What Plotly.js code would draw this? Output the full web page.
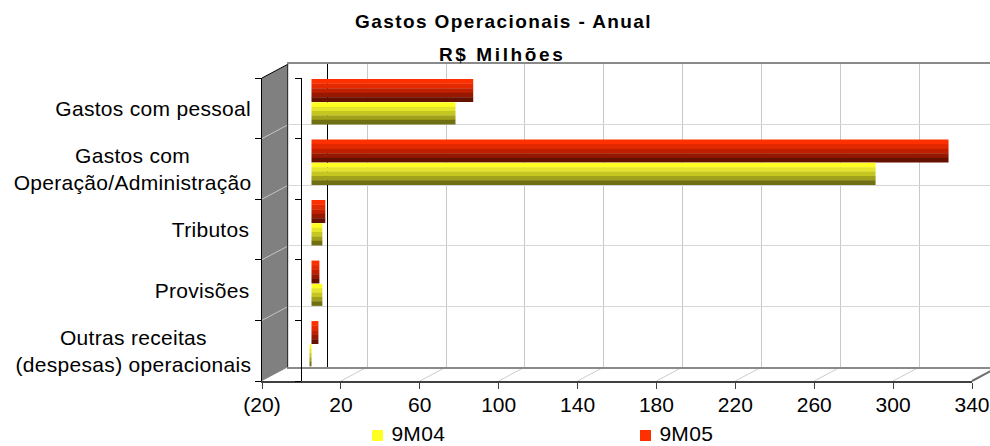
<!DOCTYPE html>
<html>
<head>
<meta charset="utf-8">
<script src="https://cdn.plot.ly/plotly-3.0.1.min.js"></script>
<style>
html, body { margin: 0; padding: 0; background: #ffffff; }
#chart { width: 990px; height: 446px; }
.annotation .annotation-text { letter-spacing: 0.3px; }
.annotation[data-index="5"] .annotation-text { letter-spacing: 1.4px; }
.annotation[data-index="6"] .annotation-text { letter-spacing: 2.6px; }
</style>
</head>
<body>
<div id="chart"></div>
<script>
// ---------------- data ----------------
const categories = [
  'Gastos com pessoal',
  'Gastos com Operação/Administração',
  'Tributos',
  'Provisões',
  'Outras receitas (despesas) operacionais'
];
const categoryLabels = [
  'Gastos com pessoal',
  'Gastos com<br>Operação/Administração',
  'Tributos',
  'Provisões',
  'Outras receitas<br>(despesas) operacionais'
];
const seriesNames = ['9M04', '9M05'];
const values9M04 = [73, 286, 5.5, 5.5, -1];
const values9M05 = [82, 323, 7, 4, 3.5];
const xTickVals = [-20, 20, 60, 100, 140, 180, 220, 260, 300, 340];
const xTickText = ['(20)', '20', '60', '100', '140', '180', '220', '260', '300', '340'];
const titleLines = ['Gastos Operacionais - Anual', 'R$ Milhões'];

// ---------------- geometry (pixels) ----------------
const W = 990, H = 446;
const FL = 262, FR = 972, FT = 78, FB = 381;      // front plane
const S = (FR - FL) / (xTickVals[xTickVals.length - 1] - xTickVals[0]); // px per unit
const DX = 26.3, DY = -14;                          // depth offset
const BL = FL + DX, BT = FT + DY, BB = FB + DY;     // back plane
const BAR0 = 311.5, MT = 71.5, MB = 374;            // bar plane
const FZ = FL + (0 - xTickVals[0]) * S;             // front zero
const px = v => v / W;
const py = v => (H - v) / H;

const redShades = ['#ff3000', '#e42800', '#c02000', '#961800', '#661000'];
const yellowShades = ['#ffff22', '#e4e42a', '#c6c622', '#a0a01a', '#707012'];

const traces = [];
// empty traces so that the frame subplots are registered and drawn
[['x', 'y'], ['x3', 'y3'], ['x3', 'y4']].forEach(([xa, ya]) => {
  traces.push({ type: 'scatter', mode: 'markers', x: [], y: [], xaxis: xa, yaxis: ya,
    showlegend: false, hoverinfo: 'skip' });
});
function addSeries(vals, name, shades, off0, total) {
  const n = shades.length, w = total / n;
  shades.forEach((c, i) => {
    traces.push({
      type: 'bar', orientation: 'h',
      x: vals, y: categories,
      xaxis: 'x2', yaxis: 'y2',
      offset: off0 + i * w, width: w + 0.004,
      marker: { color: c, line: { width: 0 } },
      name: name, showlegend: false,
      hoverinfo: 'skip'
    });
  });
}
addSeries(values9M05, seriesNames[1], redShades, -0.375, 0.375);
addSeries(values9M04, seriesNames[0], yellowShades, 0.01, 0.36);

// ---------------- shapes ----------------
const shapes = [];
const P = (x, y) => px(x) + ',' + py(y);
shapes.push({ type: 'path', xref: 'paper', yref: 'paper', layer: 'below',
  path: 'M' + P(FL, FT) + 'L' + P(BL, BT) + 'L' + P(BL, BB) + 'L' + P(FL, FB) + 'Z',
  fillcolor: '#808080', line: { width: 0 } });
for (let k = 1; k < categories.length; k++) {
  const yf = FT + k * (FB - FT) / categories.length;
  const yb = BT + k * (BB - BT) / categories.length;
  shapes.push({ type: 'line', xref: 'paper', yref: 'paper', layer: 'below',
    x0: px(FL), y0: py(yf), x1: px(BL), y1: py(yb), line: { color: '#c4c4c4', width: 1 } });
}
shapes.push({ type: 'line', xref: 'paper', yref: 'paper', layer: 'below',
  x0: px(FL), y0: py(FT), x1: px(BL), y1: py(BT), line: { color: '#000', width: 1 } });
xTickVals.slice(1).forEach((v, i, arr) => {
  const xf = FL + (v - xTickVals[0]) * S;
  const last = i === arr.length - 1;
  shapes.push({ type: 'line', xref: 'paper', yref: 'paper', layer: 'below',
    x0: px(xf), y0: py(FB), x1: px(xf + DX), y1: py(BB),
    line: { color: last ? '#707070' : '#cccccc', width: last ? 2 : 1 } });
});

// legend (custom, so it is not clipped at the bottom edge)
const legendItems = [
  { name: seriesNames[0], color: yellowShades[0], x: 372 },
  { name: seriesNames[1], color: redShades[0], x: 640 }
];
legendItems.forEach(it => {
  shapes.push({ type: 'rect', xref: 'paper', yref: 'paper', layer: 'above',
    x0: px(it.x), x1: px(it.x + 11), y0: py(441), y1: py(430),
    fillcolor: it.color, line: { width: 0 } });
});

// ---------------- annotations ----------------
const annotations = categoryLabels.map((t, i) => ({
  xref: 'paper', yref: 'y3', x: px(250), y: i + 0.5,
  xanchor: 'right', yanchor: 'middle', align: 'center',
  text: t, showarrow: false, font: { size: 21, color: '#000' }
}));
annotations.push({ xref: 'paper', yref: 'paper', x: px(503.5), y: py(21.5),
  xanchor: 'center', yanchor: 'middle', text: '<b>' + titleLines[0] + '</b>',
  showarrow: false, font: { size: 19, color: '#000' } });
annotations.push({ xref: 'paper', yref: 'paper', x: px(501.5), y: py(54.5),
  xanchor: 'center', yanchor: 'middle', text: '<b>' + titleLines[1] + '</b>',
  showarrow: false, font: { size: 19, color: '#000' } });
legendItems.forEach(it => {
  annotations.push({ xref: 'paper', yref: 'paper', x: px(it.x + 19), y: py(433.5),
    xanchor: 'left', yanchor: 'middle', text: it.name, borderpad: 0,
    showarrow: false, font: { size: 21, color: '#000' } });
});

const boundaries = [0, 1, 2, 3, 4, 5];

const layout = {
  width: W, height: H, autosize: false,
  margin: { l: 0, r: 0, t: 0, b: 0, pad: 0, autoexpand: false },
  paper_bgcolor: '#ffffff', plot_bgcolor: 'rgba(0,0,0,0)',
  font: { family: '"Liberation Sans", Arial, sans-serif', size: 21, color: '#000' },
  barmode: 'overlay',
  showlegend: false,
  xaxis: { domain: [px(BL), 1], range: [xTickVals[0], xTickVals[0] + (W - BL) / S], anchor: 'y',
    tickmode: 'array', tickvals: xTickVals.filter(v => v > xTickVals[0] && v < 335),
    showticklabels: false, ticks: '', showgrid: true, gridcolor: '#c8c8c8', gridwidth: 1,
    zeroline: true, zerolinecolor: '#000', zerolinewidth: 1,
    showline: true, mirror: true, linecolor: '#8a8a8a', linewidth: 2, fixedrange: true },
  yaxis: { domain: [py(BB), py(BT)], range: [5, 0], anchor: 'x',
    tickmode: 'array', tickvals: [1, 2, 3, 4], showticklabels: false, ticks: '',
    showgrid: true, gridcolor: '#d6d6d6', zeroline: false,
    showline: true, linecolor: '#333', linewidth: 1, fixedrange: true },
  xaxis2: { domain: [px(FL), 1], range: [-(BAR0 - FL) / S, -(BAR0 - FL) / S + (W - FL) / S],
    anchor: 'y2', visible: false, fixedrange: true },
  yaxis2: { domain: [py(MB), py(MT)], type: 'category', categoryorder: 'array',
    categoryarray: categories, range: [categories.length - 0.5, -0.5],
    anchor: 'x2', visible: false, fixedrange: true },
  xaxis3: { domain: [px(FL), px(FR)], range: [xTickVals[0], xTickVals[xTickVals.length - 1]], anchor: 'y3',
    tickmode: 'array', tickvals: xTickVals, ticktext: xTickText,
    ticks: 'outside', ticklen: 6, tickwidth: 1, tickcolor: '#404040',
    showline: true, linecolor: '#404040', linewidth: 2, ticklabelstandoff: -2,
    showgrid: false, zeroline: false, tickfont: { size: 21, color: '#000' }, fixedrange: true },
  yaxis3: { domain: [py(FB), py(FT)], range: [5, 0], anchor: 'x3',
    tickmode: 'array', tickvals: boundaries, showticklabels: false,
    ticks: 'outside', ticklen: 6, tickcolor: '#000',
    showline: true, linecolor: '#000', linewidth: 1,
    showgrid: false, zeroline: false, fixedrange: true },
  yaxis4: { domain: [py(FB), py(FT)], range: [5, 0], anchor: 'free', overlaying: 'y3',
    position: px(FZ), side: 'left',
    tickmode: 'array', tickvals: boundaries, showticklabels: false,
    ticks: 'outside', ticklen: 6, tickcolor: '#000',
    showline: true, linecolor: '#000', linewidth: 1,
    showgrid: false, zeroline: false, fixedrange: true },
  shapes: shapes,
  annotations: annotations
};

Plotly.newPlot('chart', traces, layout, { staticPlot: true, displayModeBar: false });
</script>
</body>
</html>
